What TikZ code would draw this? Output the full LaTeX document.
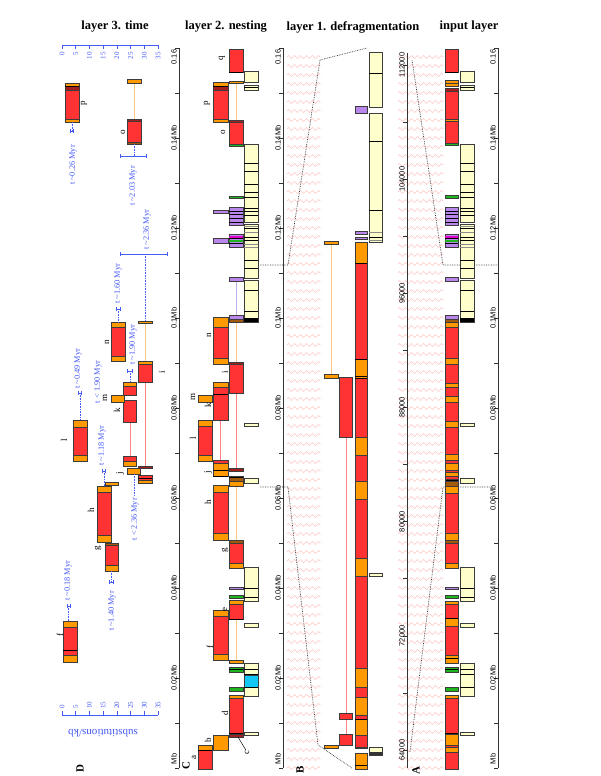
\documentclass[tikz,border=0pt]{standalone}
\usepackage{fontspec}
\setmainfont{Liberation Serif}
\setsansfont{Liberation Sans}
\usetikzlibrary{arrows.meta, decorations.pathmorphing}
\definecolor{tered}{RGB}{255,51,51}
\definecolor{ltror}{RGB}{255,153,0}
\definecolor{genec}{RGB}{255,255,204}
\definecolor{purpc}{RGB}{185,135,235}
\definecolor{greenc}{RGB}{30,180,30}
\definecolor{cyanc}{RGB}{20,200,245}
\definecolor{magc}{RGB}{220,0,200}
\definecolor{dredc}{RGB}{160,30,30}
\definecolor{brownc}{RGB}{160,90,10}
\definecolor{edgec}{RGB}{60,60,60}
\definecolor{timeblue}{RGB}{70,90,245}
\definecolor{nestpink}{RGB}{255,130,130}
\definecolor{nestorange}{RGB}{255,200,130}
\definecolor{nestlav}{RGB}{190,175,230}
\definecolor{zigpink}{RGB}{255,200,200}

\begin{document}
\begin{tikzpicture}[
  x=1pt, y=-1pt,
  seg/.style={draw=edgec, line width=0.7pt},
  sepline/.style={black, line width=0.9pt},
  gsepline/.style={black!45, line width=0.7pt},
  link/.style={line width=0.9pt},
  zig/.style={draw=zigpink, line width=0.4pt, decorate, decoration={zigzag, segment length=6pt, amplitude=1.5pt}},
  guide/.style={densely dotted, line width=0.7pt, black!80},
  axisline/.style={line width=0.6pt, black!80},
  ticklab/.style={font=\sffamily\fontsize{7.5}{8}\selectfont, rotate=90, inner sep=0pt},
  elab/.style={font=\fontsize{9}{9}\selectfont, rotate=90, inner sep=0pt},
  tlab/.style={font=\fontsize{8.3}{9}\selectfont, text=timeblue, rotate=90, inner sep=0pt},
  scalelab/.style={font=\fontsize{7}{7}\selectfont, text=timeblue, rotate=90, inner sep=0pt},
  tscale/.style={timeblue, line width=0.6pt},
  ebar/.style={timeblue, line width=0.7pt, {Bar[width=3.5pt]}-{Bar[width=3.5pt]}},
  tdot/.style={timeblue, densely dotted, line width=0.6pt},
  hdr/.style={font=\bfseries\fontsize{12.5}{13}\selectfont},
  panel/.style={font=\bfseries\fontsize{11}{11}\selectfont, rotate=90, inner sep=0pt},
]
\useasboundingbox (0,0) rectangle (600,776);
\fill[white] (0,0) rectangle (600,776);

% Zigzag background of layer 1
\foreach \r in {0,...,79} {
  \draw[zig] (287,57+9*\r) -- (322,57+9*\r);
  \draw[zig] (398,57+9*\r) -- (444,57+9*\r);
}

% Headers
\node[hdr] (hdrD) at (115,27) {layer 3. time};
\node[hdr] (hdrC) at (226,27) {layer 2. nesting};
\node[hdr] (hdrB) at (353,27) {layer 1. defragmentation};
\node[hdr] (hdrA) at (469,27) {input layer};

% Panel letters
\node[panel] (pD) at (80,769) {D};
\node[panel] (pC) at (186,766) {C};
\node[panel] (pB) at (300,770) {B};
\node[panel] (pA) at (416,771) {A};

% Genomic axes
\foreach \ax/\nm in {179/D, 283/C, 498/A} {
  \draw[axisline] (\ax,48) -- (\ax,768);
  \foreach \k in {0,10,...,160}
    \draw[axisline] (\ax-4,768-4.5*\k) -- (\ax,768-4.5*\k);
  \foreach \k/\lab in {20/0.02Mb, 40/0.04Mb, 60/0.06Mb, 80/0.08Mb, 100/0.1Mb, 120/0.12Mb, 140/0.14Mb}
    \node[ticklab] (ax\nm\k) at (\ax-5,768-4.5*\k) {\lab};
  \node[ticklab] (ax\nm top) at (\ax-5,57) {0.16};
  \node[ticklab] (ax\nm bot) at (\ax-5,759) {Mb};
}

% Defragmented axis
\draw[axisline] (407,53) -- (407,768);
\foreach \kv in {64,68,...,112}
  \draw[axisline] (403,750-14.27*\kv+14.27*64) -- (407,750-14.27*\kv+14.27*64);
\foreach \kv in {64,72,...,112}
  \node[ticklab] (axB\kv) at (402,750-14.27*\kv+14.27*64) {\kv000};

% Substitution scales
\draw[tscale] (62,45) -- (158,45);
\draw[tscale] (62,715) -- (158,715);
\foreach \k in {0,5,...,35} {
  \draw[tscale] (62+2.743*\k,45) -- (62+2.743*\k,49);
  \node[scalelab, anchor=east] (st\k) at (62+2.743*\k,52) {\k};
  \draw[tscale] (62+2.743*\k,715) -- (62+2.743*\k,711);
  \node[scalelab, anchor=west] (sb\k) at (62+2.743*\k,709) {\k};
}
\node[font=\fontsize{11}{11}\selectfont, text=timeblue, rotate=180] (subst) at (103,733) {substitutions/kb};

% Dotted guides
\draw[guide] (260,265) -- (288,265) -- (320,60) -- (367,48);
\draw[guide] (260,487) -- (288,487) -- (318,745) -- (352,768);
\draw[guide] (497,265) -- (443,265) -- (412,60);
\draw[guide] (493,487) -- (443,487) -- (410,752);

% Nesting links
\draw[link, nestorange] (236,83) -- (236,120) (236,322) -- (236,362) (236,486) -- (236,540) (236,620) -- (236,660);
\draw[link, nestlav] (236,281) -- (236,315);
\draw[link, nestpink] (220,420) -- (220,460) (236,393) -- (236,468);
\draw[link, nestorange] (134,83) -- (134,119) (145,323) -- (145,361) (111.5,485) -- (111.5,543);
\draw[link, nestpink] (130,422) -- (130,456) (145,382) -- (145,466);
\draw[link, nestorange] (331,244) -- (331,374);
\draw[link, nestpink] (346,437) -- (346,734);

% Input layer: elements
\foreach \a/\b/\c in {49/72/tered, 80/83/ltror, 83/86/ltror, 88/91/dredc, 91/119/tered, 119/121/ltror, 121/143/tered, 143/145/greenc,
  195/198/greenc, 207/225/purpc, 234/247/purpc, 277/281/purpc, 315/319/purpc, 319/322/brownc, 322/327/ltror, 327/358/tered,
  358/364/ltror, 364/383/tered, 383/387/ltror, 387/396/tered, 396/402/ltror, 402/421/tered, 421/427/ltror, 427/454/tered,
  454/460/ltror, 460/463/tered, 463/470/ltror, 470/472/tered, 472/476/ltror, 476/479/tered, 479/481/black, 481/486/brownc,
  486/493/ltror, 493/533/tered, 533/540/ltror, 540/543/brownc, 543/563/tered, 563/568/ltror, 587/589/purpc, 595/598/greenc,
  601/604/ltror, 604/618/tered, 618/626/ltror, 626/655/tered, 655/663/ltror, 667/672/greenc, 687/691/greenc, 695/698/ltror,
  698/734/tered, 734/745/ltror, 745/747/tered, 747/752/ltror, 752/769/tered}
  \filldraw[seg, fill=\c] (445,\a) rectangle (458,\b);
\fill[magc] (445,235.5) rectangle (458,237.5);
\fill[greenc] (445,240) rectangle (458,241.5);
\foreach \a in {72, 211, 214, 218, 222, 238.5, 243.5, 618, 658, 669.5, 733.5}
  \draw[sepline] (445,\a) -- (458,\a);

% Input layer: genes
\foreach \a/\b in {71/82, 85/90, 144/222, 224/278, 280/322, 423/426, 478/483, 567/601, 623/627, 663/696, 732/735}
  \filldraw[seg, fill=genec] (460,\a) rectangle (474,\b);
\fill[black] (460,318) rectangle (474,322);
\foreach \a in {87.5, 163, 171, 184, 192, 197, 208, 211, 215, 228, 237, 240, 260, 268, 290, 311, 588, 597, 669, 674, 687}
  \draw[sepline] (460,\a) -- (474,\a);
\foreach \a in {226, 232, 244, 247}
  \draw[gsepline] (460,\a) -- (474,\a);

% Layer 1: elements
\foreach \a/\b/\c in {106/113/purpc, 231/234/purpc, 237/239/purpc, 242/263/ltror, 263/359/tered, 359/376/ltror, 376/378/ltror,
  378/437/tered, 437/455/ltror, 455/481/tered, 481/499/ltror, 499/558/tered, 558/576/ltror, 576/668/tered, 668/687/ltror,
  687/697/tered, 697/715/ltror, 715/719/tered, 719/735/ltror, 735/747/tered, 747/748/ltror, 753/769/ltror}
  \filldraw[seg, fill=\c] (355,\a) rectangle (367,\b);
\foreach \a in {263, 359, 376, 378, 719, 765}
  \draw[sepline] (355,\a) -- (367,\a);
\foreach \a/\b in {377/437, 713/719, 734/745}
  \filldraw[seg, fill=tered] (339,\a) rectangle (352,\b);
\foreach \a/\b in {241/244, 374/378, 745/748}
  \filldraw[seg, fill=ltror] (324,\a) rectangle (338,\b);
\foreach \a/\b in {52/107, 113/242, 573/576, 747/755}
  \filldraw[seg, fill=genec] (369,\a) rectangle (382,\b);
\fill[black!80] (369,752) rectangle (382,755);
\foreach \a in {73, 141, 210, 237}
  \draw[sepline] (369,\a) -- (382,\a);
\foreach \a in {232, 240}
  \draw[gsepline] (369,\a) -- (382,\a);

% Layer 2: main track
\foreach \a/\b/\c in {49/72/tered, 81/83/ltror, 120/122/dredc, 122/144/tered, 144/146/greenc, 196/198/greenc, 207/225/purpc,
  234/247/purpc, 277/281/purpc, 315/319/purpc, 319/322/brownc, 362/364/dredc, 364/393/tered, 468/471/dredc, 476/481/brownc,
  481/486/ltror, 540/543/brownc, 543/563/tered, 563/568/ltror, 587/589/purpc, 595/598/greenc, 600/604/ltror, 604/619/tered,
  660/663/ltror, 667/672/greenc, 687/691/greenc, 695/698/ltror, 698/734/tered, 734/737/dredc}
  \filldraw[seg, fill=\c] (229,\a) rectangle (243,\b);
\fill[magc] (229,235.5) rectangle (243,237.5);
\fill[greenc] (229,240) rectangle (243,241.5);
\foreach \a in {72, 211, 214, 218, 222, 238.5, 243.5, 477, 619, 669.5, 733.5}
  \draw[sepline] (229,\a) -- (243,\a);

% Layer 2: nested elements
\foreach \a/\b/\c in {82/86/ltror, 86/90/dredc, 90/119/tered, 119/122/ltror, 210/213/purpc, 238/243/purpc, 317/327/ltror,
  327/358/tered, 358/364/ltror, 382/387/ltror, 387/420/tered, 460/463/tered, 463/470/ltror, 470/476/ltror, 485/492/ltror,
  492/533/tered, 533/540/ltror, 610/616/ltror, 616/654/tered, 654/660/ltror, 735/750/ltror}
  \filldraw[seg, fill=\c] (213,\a) rectangle (228,\b);
\foreach \a in {86, 394, 470, 476}
  \draw[sepline] (213,\a) -- (228,\a);
\foreach \a/\b/\c in {395/402/ltror, 420/426/ltror, 426/455/tered, 455/461/ltror, 745/750/ltror, 750/769/tered}
  \filldraw[seg, fill=\c] (198,\a) rectangle (212,\b);
\draw[sepline] (198,750) -- (212,750);

% Layer 2: genes
\foreach \a/\b in {71/82, 85/90, 144/222, 224/278, 280/322, 423/426, 478/483, 567/601, 623/627, 663/696, 732/735}
  \filldraw[seg, fill=genec] (244,\a) rectangle (258,\b);
\filldraw[seg, fill=cyanc] (244,675) rectangle (258,687);
\fill[black] (244,318) rectangle (258,322);
\foreach \a in {87.5, 163, 171, 184, 192, 197, 208, 211, 215, 228, 237, 240, 260, 268, 290, 311, 588, 597, 669, 674, 687}
  \draw[sepline] (244,\a) -- (258,\a);
\foreach \a in {226, 232, 244, 247}
  \draw[gsepline] (244,\a) -- (258,\a);

% Layer 2: labels
\foreach \nm/\px/\py in {q/222/58, p/207/103, o/223/132, n/209/335, i/225/372, m/193/397, k/208/405, l/193/438,
  j/208/472, h/208/502, g/225/550, e/225/609, f/210/647, d/225/713, b/208/740, a/194/757}
  \node[elab] (c\nm) at (\px,\py) {\nm};
\node[elab] (cc) at (247,752) {c};
\draw[line width=0.5pt] (238,737) -- (cc);

% Layer 3: elements placed by age
\foreach \xa/\xb/\a/\b/\c in {65/79/83/86/ltror, 65/79/86/90/dredc, 65/79/90/119/tered, 65/79/119/122/ltror,
  127/141/79/83/ltror, 127/141/119/121/dredc, 127/141/121/142/tered, 127/141/142/144/brownc,
  111/125/322/327/ltror, 111/125/327/356/tered, 111/125/356/361/ltror,
  138/152/321/323/ltror, 138/152/361/364/ltror, 138/152/364/382/tered,
  123/136/382/386/ltror, 123/136/386/395/tered, 123/136/400/422/tered, 123/136/456/461/tered, 123/136/461/466/ltror,
  111/124/395/402/ltror,
  138/152/466/468/dredc, 138/152/475/480/tered, 138/152/480/483/ltror,
  127/140/468/474/ltror,
  73/87/420/427/ltror, 73/87/427/455/tered, 73/87/455/461/ltror,
  105/118/482/485/ltror,
  97/111/486/492/ltror, 97/111/492/535/tered, 97/111/535/542/ltror,
  105/118/543/545/brownc, 105/118/545/565/tered, 105/118/565/571/ltror,
  63/77/621/627/ltror, 63/77/627/655/tered, 63/77/655/662/ltror}
  \filldraw[seg, fill=\c] (\xa,\a) rectangle (\xb,\b);
\draw[sepline] (65,86) -- (79,86);
\draw[sepline] (138,478) -- (152,478);
\draw[sepline] (63,650) -- (77,650);

% Layer 3: labels
\foreach \nm/\px/\py in {p/84/103, o/123/132, n/107/342, i/162/372, m/105/398, k/117/410, l/64/440,
  j/120/473, h/91/510, g/98/548, f/60/635}
  \node[elab] (d\nm) at (\px,\py) {\nm};

% Layer 3: ages
\draw[tdot] (72,122) -- (72,131);
\draw[ebar] (70,131) -- (74,131);
\node[tlab, anchor=east] (tp) at (73,145) {t \textasciitilde 0.26 Myr};
\draw[tdot] (134,144) -- (134,156);
\draw[ebar] (120,156) -- (147,156);
\node[tlab, anchor=east] (to) at (133,166) {t \textasciitilde 2.03 Myr};
\draw[tdot] (145,254) -- (145,321);
\draw[ebar] (120,254) -- (168,254);
\node[tlab, anchor=west] (ti) at (147,250) {t \textasciitilde 2.36 Myr};
\draw[tdot] (118.5,309) -- (118.5,322);
\draw[ebar] (116,309) -- (121,309);
\node[tlab, anchor=west] (tn) at (118,304) {t \textasciitilde 1.60 Myr};
\draw[tdot] (130,371) -- (130,382);
\draw[ebar] (127,371) -- (133,371);
\node[tlab, anchor=west] (tk) at (133,365) {t \textasciitilde 1.90 Myr};
\node[tlab] (tm) at (98,382) {t < 1.90 Myr};
\draw[tdot] (80,393) -- (80,420);
\draw[ebar] (78,393) -- (82,393);
\node[tlab, anchor=west] (tl) at (78,389) {t \textasciitilde 0.49 Myr};
\draw[tdot] (104,471) -- (104,486);
\draw[ebar] (102,471) -- (106,471);
\node[tlab, anchor=west] (th) at (102,466) {t \textasciitilde 1.18 Myr};
\draw[tdot] (134,474) -- (134,496);
\node[tlab, anchor=east] (tj) at (135,498) {t < 2.36 Myr};
\draw[tdot] (111.5,571) -- (111.5,582);
\draw[ebar] (109,582) -- (114,582);
\node[tlab, anchor=east] (tg) at (112,591) {t \textasciitilde 1.40 Myr};
\draw[tdot] (68.5,606) -- (68.5,621);
\draw[ebar] (66.5,606) -- (70.5,606);
\node[tlab, anchor=west] (tf) at (68,601) {t \textasciitilde 0.18 Myr};
\end{tikzpicture}
\end{document}
